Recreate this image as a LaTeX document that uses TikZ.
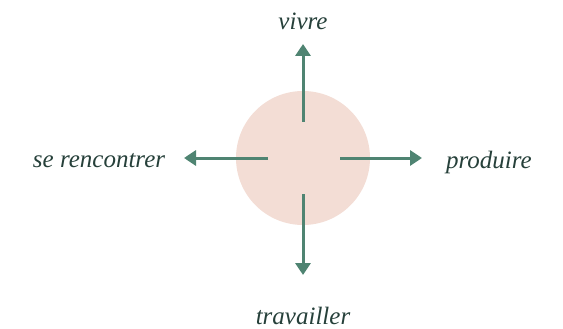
\documentclass[tikz,border=0pt]{standalone}
\usepackage{fontspec}
\setmainfont{Liberation Serif}
\usetikzlibrary{arrows.meta}
\definecolor{blush}{HTML}{F3DDD5}
\definecolor{pine}{HTML}{4F8472}
\definecolor{ink}{HTML}{26403A}
\tikzset{
  flow/.style={draw=pine, line width=3pt, -{Triangle[width=15pt,length=12pt]}},
  word/.style={text=ink, font=\fontsize{25}{29}\selectfont\itshape, inner sep=0pt}
}
\begin{document}
\begin{tikzpicture}[x=1pt,y=-1pt]
  \useasboundingbox (0,0) rectangle (563,329);
  \fill[blush] (303,158) circle (67);
  % arrow ends
  \coordinate (up0) at (303,122);
  \coordinate (up1) at (303,44);
  \coordinate (rt0) at (340,158);
  \coordinate (rt1) at (422,158);
  \coordinate (lf0) at (268,158);
  \coordinate (lf1) at (184,158);
  \coordinate (dn0) at (303,194);
  \coordinate (dn1) at (303,275);
  \draw[flow] (up0) -- (up1);
  \draw[flow] (rt0) -- (rt1);
  \draw[flow] (lf0) -- (lf1);
  \draw[flow] (dn0) -- (dn1);
  % labels
  \node[word] (vivre) at (303,21) {vivre};
  \node[word] (produire) at (489,162) {produire};
  \node[word] (rencontrer) at (99,161) {se rencontrer};
  \node[word] (travailler) at (303,316) {travailler};
\end{tikzpicture}
\end{document}
